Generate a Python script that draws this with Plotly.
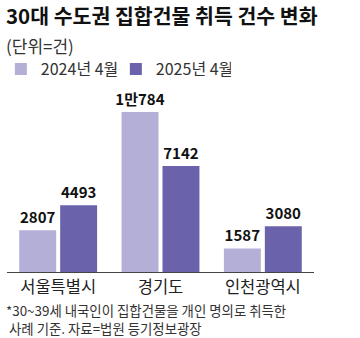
import plotly.graph_objects as go

categories = ["서울특별시", "경기도", "인천광역시"]
series_names = ["2024년 4월", "2025년 4월"]
values_2024 = [2807, 10784, 1587]
values_2025 = [4493, 7142, 3080]
labels_2024 = ["2807", "1만784", "1587"]
labels_2025 = ["4493", "7142", "3080"]
colors = ["#b4afd7", "#6a63ab"]

title = "30대 수도권 집합건물 취득 건수 변화"
unit = "(단위=건)"
note1 = "*30~39세 내국인이 집합건물을 개인 명의로 취득한"
note2 = " 사례 기준. 자료=법원 등기정보광장"

FONT = "Noto Sans CJK KR, Noto Sans, sans-serif"

fig = go.Figure()
for name, vals, labs, col in [(series_names[0], values_2024, labels_2024, colors[0]),
                              (series_names[1], values_2025, labels_2025, colors[1])]:
    fig.add_trace(go.Bar(
        x=categories, y=vals, name=name, marker_color=col, marker_line_width=0,
        text=["<b>" + s + "</b>" for s in labs], textposition="outside", cliponaxis=False,
        constraintext="none",
        textfont=dict(family=FONT, size=15, color="#111"),
    ))

T, B = 90, 272
H = B - T
def py(y):
    return (B - y) / H

fig.update_layout(
    width=360, height=338,
    margin=dict(l=7, r=46, t=T, b=338 - B, autoexpand=False),
    paper_bgcolor="white", plot_bgcolor="white",
    barmode="group", bargap=0.2, bargroupgap=0.0976,
    font=dict(family=FONT, color="#222"),
    showlegend=True,
    legend=dict(orientation="h", x=-0.02, y=py(69), yanchor="middle", xanchor="left",
                font=dict(size=16, color="#333"), entrywidth=70, entrywidthmode="pixels",
                bgcolor="rgba(0,0,0,0)", itemclick=False, tracegroupgap=0),
    xaxis=dict(showline=True, linecolor="#444", linewidth=1, ticks="", showgrid=False,
               tickfont=dict(size=16.5, color="#222"), fixedrange=True),
    yaxis=dict(visible=False, range=[0, H / 0.01484], fixedrange=True),
    annotations=[
        dict(text="<b>" + title + "</b>", xref="paper", yref="paper", x=0, y=py(15.5),
             xanchor="left", yanchor="middle", showarrow=False, xshift=-3,
             font=dict(size=20.5, color="#111")),
        dict(text=unit, xref="paper", yref="paper", x=0, y=py(45),
             xanchor="left", yanchor="middle", showarrow=False, xshift=-3,
             font=dict(size=17, color="#333")),
        dict(text=note1, xref="paper", yref="paper", x=0, y=py(310),
             xanchor="left", yanchor="middle", showarrow=False, xshift=-3,
             font=dict(size=13.4, color="#333")),
        dict(text=note2, xref="paper", yref="paper", x=0, y=py(328),
             xanchor="left", yanchor="middle", showarrow=False, xshift=-3,
             font=dict(size=13.4, color="#333")),
    ],
)

fig.write_html("out.html", config={"displayModeBar": False})
